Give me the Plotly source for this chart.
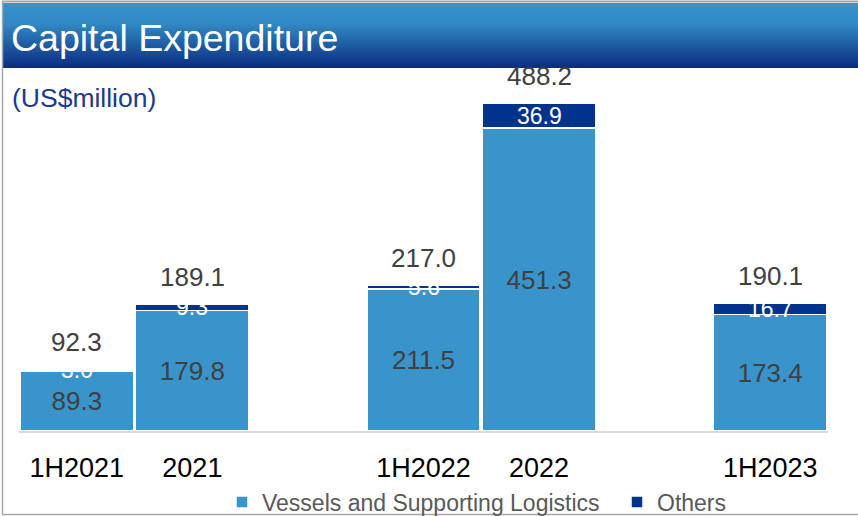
import plotly.graph_objects as go

# ---- data ----
categories = ["1H2021", "2021", "1H2022", "2022", "1H2023"]
vessels = [89.3, 179.8, 211.5, 451.3, 173.4]
others = [3.0, 9.3, 5.6, 36.9, 16.7]
totals = [92.3, 189.1, 217.0, 488.2, 190.1]
series_names = ["Vessels and Supporting Logistics", "Others"]
slot_order = ["1H2021", "2021", " ", "1H2022", "2022", "  ", "1H2023"]

# ---- geometry / style ----
W, H = 858, 516
L, R, T, B = 19, 30, 70, 85
PW, PH = W - L - R, H - T - B
BASE = H - B
YMAX = 537.8

C_VES = "#3894CB"
C_OTH = "#00338D"
C_VAL = "#404040"
FONT = "Liberation Sans, Arial, sans-serif"


def px_x(px):
    return (px - L) / PW


def px_y(py):
    return (BASE - py) / PH


fig = go.Figure()
fig.add_trace(go.Bar(
    x=categories, y=vessels, name=series_names[0],
    marker=dict(color=C_VES, line=dict(color="white", width=1.5)),
    text=[f"{v:.1f}" for v in vessels], textposition="inside",
    insidetextanchor="middle", textangle=0,
    textfont=dict(size=26, color=C_VAL, family=FONT),
    hoverinfo="skip",
))
fig.add_trace(go.Bar(
    x=categories, y=others, name=series_names[1],
    marker=dict(color=C_OTH, line=dict(color="white", width=1.5)),
    hoverinfo="skip",
))

annotations = []
for c, v, o, t in zip(categories, vessels, others, totals):
    xi = slot_order.index(c)
    annotations.append(dict(
        x=xi, y=v + o / 2, xref="x", yref="y", text=f"{o:.1f}",
        showarrow=False, yanchor="middle",
        font=dict(size=23, color="white", family=FONT),
    ))
    annotations.append(dict(
        x=xi, y=v + o, xref="x", yref="y", text=f"{t:.1f}",
        showarrow=False, yanchor="middle", yshift=27,
        font=dict(size=26, color=C_VAL, family=FONT),
    ))

# title & unit
annotations.append(dict(
    x=px_x(9), y=px_y(38), xref="paper", yref="paper", xanchor="left",
    yanchor="middle", text="Capital Expenditure", showarrow=False,
    font=dict(size=37.5, color="white", family=FONT),
))
annotations.append(dict(
    x=px_x(10), y=px_y(98), xref="paper", yref="paper", xanchor="left",
    yanchor="middle", text="(US$million)", showarrow=False,
    font=dict(size=26.5, color="#1A3A8F", family=FONT),
))

shapes = []
# gradient title bar built from overlapping stripes
y0, y1 = 3, 68
top_c = (56, 148, 204)
mid_c = (48, 136, 196)
bot_c = (10, 44, 128)
n = 65
for i in range(n):
    a = y0 + (y1 - y0) * i / n
    yc = a + (y1 - y0) / n / 2
    if yc < 24:
        f = (yc - y0) / (24 - y0)
        c0, c1 = top_c, mid_c
    else:
        f = (yc - 24) / (y1 - 24)
        c0, c1 = mid_c, bot_c
    col = tuple(round(c0[k] + (c1[k] - c0[k]) * f) for k in range(3))
    shapes.append(dict(
        type="rect", xref="paper", yref="paper",
        x0=px_x(3), x1=px_x(W + 2), y0=px_y(y1), y1=px_y(a),
        fillcolor="rgb(%d,%d,%d)" % col, line=dict(width=0), layer="below",
    ))
# frame lines
frame = "#A6A6A6"
shapes.append(dict(type="line", xref="paper", yref="paper", x0=px_x(2), x1=px_x(W + 2),
                   y0=px_y(1.5), y1=px_y(1.5), line=dict(color=frame, width=2)))
shapes.append(dict(type="line", xref="paper", yref="paper", x0=px_x(2.5), x1=px_x(2.5),
                   y0=px_y(1), y1=px_y(514.5), line=dict(color=frame, width=1.5)))
shapes.append(dict(type="line", xref="paper", yref="paper", x0=px_x(2), x1=px_x(W + 2),
                   y0=px_y(514.5), y1=px_y(514.5), line=dict(color=frame, width=1.5)))

fig.update_layout(
    width=W, height=H,
    margin=dict(l=L, r=R, t=T, b=B, pad=0, autoexpand=False),
    barmode="stack", bargap=0.02,
    plot_bgcolor="white", paper_bgcolor="white",
    font=dict(family=FONT, color="#000000"),
    showlegend=True,
    legend=dict(
        orientation="h", xref="paper", yref="paper",
        x=px_x(222), y=px_y(502), xanchor="left", yanchor="middle",
        font=dict(size=23, color="#595959"), entrywidth=350,
        bgcolor="rgba(0,0,0,0)", traceorder="normal",
    ),
    xaxis=dict(
        type="category", categoryorder="array", categoryarray=slot_order,
        range=[-0.5, len(slot_order) - 0.5], showline=True,
        linecolor="#D9D9D9", linewidth=2, showgrid=False, zeroline=False,
        ticks="", tickfont=dict(size=27, color="#000000"),
        ticklabelstandoff=12,
    ),
    yaxis=dict(range=[0, YMAX], visible=False, showgrid=False, zeroline=False),
    annotations=annotations,
    shapes=shapes,
)

fig.write_html(
    "out.html",
    config={"displayModeBar": False},
    post_script="document.body.style.margin='0';document.body.style.overflow='hidden';",
)
